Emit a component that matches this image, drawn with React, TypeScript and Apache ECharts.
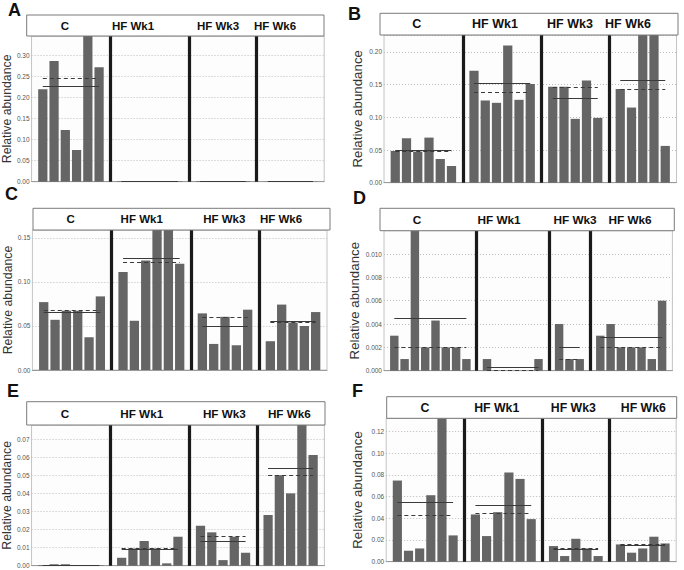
import React, { useEffect, useRef } from 'react';
import * as echarts from 'echarts';

const groupNames = ['C', 'HF Wk1', 'HF Wk3', 'HF Wk6'];

// Panel A
const aValues = [
  [0.2187, 0.2858, 0.1224, 0.075, 0.3869, 0.2708],
  [0.0012, 0.0003, 0.0002, 0.0002, 0.0003, 0.0012],
  [0.0015, 0.0015, 0.0015, 0.0015, 0.0015],
  [0.0005, 0.0005, 0.0005, 0.0005, 0.0005],
];
const aMean = [0.2266, 0.0006, 0.0015, 0.0005];
const aMedian = [0.2447, 0.0003, 0.0015, 0.0005];

// Panel B
const bValues = [
  [0.0486, 0.068, 0.0476, 0.069, 0.0363, 0.0256],
  [0.1713, 0.1258, 0.1222, 0.21, 0.1268, 0.151],
  [0.147, 0.147, 0.0977, 0.1564, 0.0992],
  [0.1432, 0.115, 0.228, 0.2395, 0.0563],
];
const bMean = [0.0492, 0.1524, 0.1294, 0.1564];
const bMedian = [0.0486, 0.139, 0.1463, 0.1432];

// Panel C
const cValues = [
  [0.0771, 0.057, 0.0673, 0.0673, 0.0372, 0.0836],
  [0.1113, 0.0559, 0.1243, 0.17, 0.1766, 0.1208],
  [0.0643, 0.0296, 0.0604, 0.0281, 0.0685],
  [0.0327, 0.0743, 0.0539, 0.05, 0.0658],
];
const cMean = [0.0654, 0.1265, 0.05, 0.0558];
const cMedian = [0.0676, 0.1227, 0.0604, 0.0539];

// Panel D
const dValues = [
  [0.003, 0.001, 0.0207, 0.002, 0.0043, 0.002, 0.002, 0.001],
  [0.001, 0, 0, 0, 0, 0.001],
  [0.004, 0.001, 0.001],
  [0.003, 0.004, 0.002, 0.002, 0.002, 0.001, 0.006],
];
const dMean = [0.0045, 0.0003, 0.002, 0.0029];
const dMedian = [0.002, 0, 0.001, 0.002];

// Panel E
const eValues = [
  [0.0004, 0.0008, 0.0008, 0.0003, 0.0003, 0.0003],
  [0.0044, 0.0096, 0.0137, 0.0096, 0.0013, 0.0161],
  [0.0222, 0.0185, 0.0031, 0.0161, 0.0072],
  [0.0281, 0.0502, 0.0401, 0.0898, 0.0613],
];
const eMean = [0.0005, 0.0092, 0.0136, 0.0539];
const eMedian = [0.0004, 0.0096, 0.0161, 0.0502];

// Panel F
const fValues = [
  [0.0747, 0.0101, 0.0122, 0.0612, 0.1464, 0.0242],
  [0.0435, 0.0236, 0.0456, 0.082, 0.0762, 0.0392],
  [0.0144, 0.0052, 0.0211, 0.0122, 0.0052],
  [0.0159, 0.0083, 0.0122, 0.023, 0.0168],
];
const fMean = [0.0548, 0.052, 0.0116, 0.0152];
const fMedian = [0.0429, 0.0446, 0.0122, 0.0159];

// y-axis scales: [max, interval, decimals]
const yScaleA = [0.345, 0.05, 2];
const yScaleB = [0.226, 0.05, 2];
const yScaleC = [0.159, 0.05, 2];
const yScaleD = [0.012, 0.002, 3];
const yScaleE = [0.078, 0.01, 2];
const yScaleF = [0.132, 0.02, 2];

const FONT = "'Liberation Sans', Arial, Helvetica, sans-serif";

type Box = { left: number; top: number; width: number; height: number };
type Panel = {
  letter: string;
  values: number[][];
  mean: number[];
  median: number[];
  yScale: number[];
  grid: Box;
  header: Box;
  labelX: number[];
  letterPos: [number, number];
  nameGap: number;
  nameSize: number;
  stripSize: number;
};

const panels: Panel[] = [
  {
    letter: 'A', values: aValues, mean: aMean, median: aMedian, yScale: yScaleA,
    grid: { left: 28.8, top: 36, width: 295.4, height: 145.7 },
    header: { left: 26.7, top: 15, width: 297.3, height: 21 },
    labelX: [65, 133, 218, 275], letterPos: [8, 1], nameGap: 15, nameSize: 12.3, stripSize: 11.5,
  },
  {
    letter: 'B', values: bValues, mean: bMean, median: bMedian, yScale: yScaleB,
    grid: { left: 384, top: 35, width: 292.5, height: 147.7 },
    header: { left: 380, top: 13.3, width: 298, height: 21.7 },
    labelX: [416.7, 495, 570, 628], letterPos: [348, 5], nameGap: 20.5, nameSize: 13.3, stripSize: 12.5,
  },
  {
    letter: 'C', values: cValues, mean: cMean, median: cMedian, yScale: yScaleC,
    grid: { left: 32.4, top: 230, width: 294.6, height: 140 },
    header: { left: 33, top: 208.3, width: 297, height: 21.7 },
    labelX: [70.7, 141.7, 224.3, 281], letterPos: [5, 185], nameGap: 16, nameSize: 12.3, stripSize: 11.5,
  },
  {
    letter: 'D', values: dValues, mean: dMean, median: dMedian, yScale: yScaleD,
    grid: { left: 384, top: 230.7, width: 288.4, height: 140 },
    header: { left: 380, top: 208.3, width: 294.3, height: 22.4 },
    labelX: [417, 499, 575, 630], letterPos: [353, 189], nameGap: 23, nameSize: 13.3, stripSize: 11.8,
  },
  {
    letter: 'E', values: eValues, mean: eMean, median: eMedian, yScale: yScaleE,
    grid: { left: 31, top: 425, width: 293.4, height: 140.7 },
    header: { left: 26.7, top: 401.7, width: 298.3, height: 23.3 },
    labelX: [65, 141.7, 224.3, 289.3], letterPos: [7, 382], nameGap: 16.2, nameSize: 12.3, stripSize: 11.7,
  },
  {
    letter: 'F', values: fValues, mean: fMean, median: fMedian, yScale: yScaleF,
    grid: { left: 386.2, top: 418.3, width: 290, height: 143.4 },
    header: { left: 386.7, top: 396.7, width: 290, height: 21.6 },
    labelX: [425, 496.7, 573.3, 643.3], letterPos: [352, 382], nameGap: 22.7, nameSize: 13.3, stripSize: 12.3,
  },
];

function buildOption() {
  const grid: any[] = [];
  const xAxis: any[] = [];
  const yAxis: any[] = [];
  const series: any[] = [];
  const graphic: any[] = [];

  panels.forEach((p, pi) => {
    const cats: string[] = [];
    const data: any[] = [];
    const seps: string[] = [];
    const ranges: [string, string][] = [];
    cats.push('pad0');
    data.push('-');
    p.values.forEach((g, gi) => {
      if (gi > 0) {
        const s = 'sep' + gi;
        seps.push(s);
        cats.push(s);
        data.push('-');
      }
      const start = cats.length;
      g.forEach((v, k) => {
        cats.push(groupNames[gi] + ' #' + (k + 1));
        data.push(v);
      });
      ranges.push([cats[start], cats[cats.length - 1]]);
    });
    cats.push('pad1');
    data.push('-');

    const [yMax, yInt, digits] = p.yScale;

    grid.push({
      left: p.grid.left, top: p.grid.top, width: p.grid.width, height: p.grid.height,
      show: true, borderColor: '#c4c4c4', borderWidth: 1, backgroundColor: '#fdfdfd',
      containLabel: false,
    });
    xAxis.push({
      type: 'category', gridIndex: pi, data: cats, boundaryGap: false,
      axisLabel: { show: false }, axisTick: { show: false },
      axisLine: { show: true, lineStyle: { color: '#9a9a9a', width: 1 } },
      splitLine: { show: false },
    });
    yAxis.push({
      type: 'value', gridIndex: pi, min: 0, max: yMax, interval: yInt,
      name: 'Relative abundance', nameLocation: 'middle', nameGap: p.nameGap,
      nameTextStyle: { fontSize: p.nameSize, color: '#333', fontFamily: FONT },
      axisLine: { show: false }, axisTick: { show: false },
      axisLabel: {
        fontSize: 6.5, color: '#555', fontFamily: FONT, margin: 2,
        showMaxLabel: false,
        formatter: (v: number) => v.toFixed(digits),
      },
      splitLine: { show: true, lineStyle: { color: '#bdbdbd', type: [1, 2], width: 1 } },
    });

    const solid = { color: '#3a3a3a', width: 1, type: 'solid' };
    const dashed = { color: '#3a3a3a', width: 1, type: [4, 3] };
    const mlData: any[] = [];
    seps.forEach((s) => {
      mlData.push({ xAxis: s, lineStyle: { color: '#1a1a1a', width: 3.2, type: 'solid' } });
    });
    ranges.forEach((r, gi) => {
      mlData.push([
        { coord: [r[0], p.median[gi]], lineStyle: dashed },
        { coord: [r[1], p.median[gi]] },
      ]);
      mlData.push([
        { coord: [r[0], p.mean[gi]], lineStyle: solid },
        { coord: [r[1], p.mean[gi]] },
      ]);
    });

    series.push({
      type: 'bar', xAxisIndex: pi, yAxisIndex: pi, data,
      barCategoryGap: '18%',
      itemStyle: { color: '#656565' },
      clip: true,
      silent: true,
      markLine: {
        silent: true, symbol: ['none', 'none'], label: { show: false },
        emphasis: { disabled: true },
        data: mlData,
      },
    });

    // strip header
    graphic.push({
      type: 'rect', silent: true,
      shape: { x: p.header.left, y: p.header.top, width: p.header.width, height: p.header.height },
      style: { fill: '#ffffff', stroke: '#7a7a7a', lineWidth: 1 },
      z: 10,
    });
    groupNames.forEach((name, gi) => {
      graphic.push({
        type: 'text', silent: true, z: 11,
        x: p.labelX[gi], y: p.header.top + p.header.height / 2,
        style: {
          text: name, fill: '#111', fontSize: p.stripSize, fontWeight: 'bold', fontFamily: FONT,
          align: 'center', verticalAlign: 'middle',
        },
      });
    });
    graphic.push({
      type: 'text', silent: true, z: 11,
      x: p.letterPos[0], y: p.letterPos[1],
      style: {
        text: p.letter, fill: '#111', fontSize: 18, fontWeight: 'bold', fontFamily: FONT,
        align: 'left', verticalAlign: 'top',
      },
    });
  });

  return {
    animation: false,
    backgroundColor: '#ffffff',
    textStyle: { fontFamily: FONT },
    grid, xAxis, yAxis, series, graphic,
  };
}

export default function App() {
  const ref = useRef<HTMLDivElement>(null);
  useEffect(() => {
    document.body.style.margin = '0';
    if (!ref.current) return;
    const chart = echarts.init(ref.current, null, { renderer: 'svg' });
    chart.setOption(buildOption() as any);
    return () => chart.dispose();
  }, []);
  return <div ref={ref} style={{ width: 684, height: 570 }} />;
}
